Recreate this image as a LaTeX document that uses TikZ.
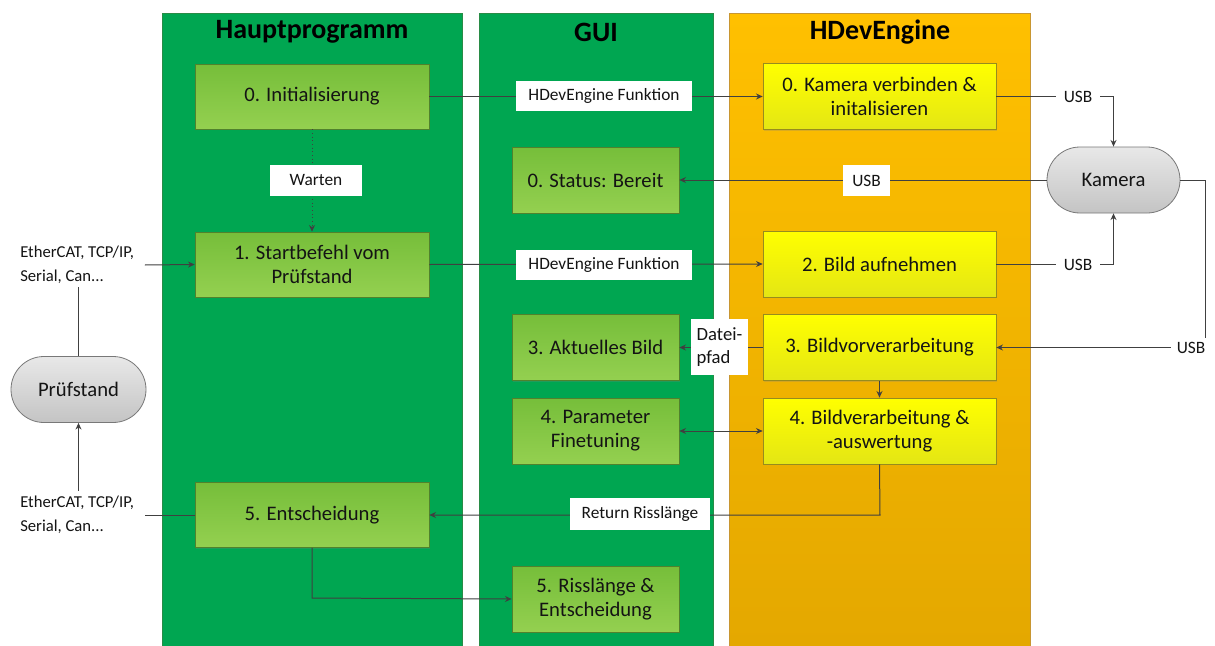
\documentclass[tikz,border=0pt]{standalone}
\usepackage{fontspec}
\setmainfont{Carlito}
\usetikzlibrary{arrows.meta,shadows}
\definecolor{colgreen}{RGB}{0,166,81}
\definecolor{colgreenB}{RGB}{40,140,70}
\definecolor{lgtop}{RGB}{118,190,58}
\definecolor{lgbot}{RGB}{148,208,80}
\definecolor{lgborder}{RGB}{80,130,45}
\definecolor{ortop}{RGB}{255,192,0}
\definecolor{orbot}{RGB}{228,168,0}
\definecolor{orborder}{RGB}{200,150,50}
\definecolor{yetop}{RGB}{255,255,0}
\definecolor{yebot}{RGB}{228,230,20}
\definecolor{yeborder}{RGB}{150,140,30}
\definecolor{grtop}{RGB}{232,232,232}
\definecolor{grbot}{RGB}{196,196,196}
\definecolor{grborder}{RGB}{120,120,120}
\definecolor{linec}{RGB}{64,64,64}
\definecolor{txt}{RGB}{20,20,20}
\tikzset{
  boxtext/.style={font=\fontsize{15.5}{18}\selectfont, text=txt, align=center, inner sep=2pt},
  gbox/.style={boxtext, draw=lgborder, line width=0.5pt, top color=lgtop, bottom color=lgbot,
    drop shadow={shadow xshift=1pt, shadow yshift=-1pt, opacity=0.25}},
  ybox/.style={boxtext, draw=yeborder, line width=0.5pt, top color=yetop, bottom color=yebot,
    drop shadow={shadow xshift=1pt, shadow yshift=-1pt, opacity=0.25}},
  hbox/.style={gbox, minimum width=175.5pt, minimum height=48.75pt},
  guibox/.style={gbox, minimum width=125.25pt, minimum height=49.5pt},
  hdbox/.style={ybox, minimum width=174.75pt, minimum height=49.5pt},
  capsule/.style={boxtext, draw=grborder, line width=0.6pt, top color=grtop, bottom color=grbot,
    rounded corners=24.75pt, minimum height=49.5pt},
  lbl/.style={fill=white, font=\fontsize{13}{17}\selectfont, text=txt, inner sep=0pt},
  plain/.style={font=\fontsize{12.5}{18}\selectfont, text=txt, align=left, inner sep=0pt},
  title/.style={font=\fontsize{21}{24}\selectfont\bfseries, text=black},
  conn/.style={draw=linec, line width=0.75pt},
  arr/.style={conn, -{Stealth[length=5pt,width=4.5pt]}},
  darr/.style={conn, {Stealth[length=5pt,width=4.5pt]}-{Stealth[length=5pt,width=4.5pt]}},
}
\begin{document}
\begin{tikzpicture}[x=0.75pt,y=-0.75pt]
\useasboundingbox (0,0) rectangle (1215,646);
% columns
\fill[white] (0,0) rectangle (1215,646);
\draw[colgreenB, fill=colgreen, line width=0.5pt] (162,13) rectangle (462,646);
\draw[colgreenB, fill=colgreen, line width=0.5pt] (479,13) rectangle (713,646);
\shade[top color=ortop, bottom color=orbot] (729,13) rectangle (1030,646);
\draw[orborder, line width=0.5pt] (729,13) rectangle (1030,646);
\node[title] (t1) at (312,32) {Hauptprogramm};
\node[title] (t2) at (596,32) {GUI};
\node[title] (t3) at (880,32) {HDevEngine};

% Hauptprogramm boxes
\node[hbox] (init) at (312,96.5) {0. Initialisierung};
\node[hbox] (start) at (312,264.5) {1. Startbefehl vom\\Prüfstand};
\node[hbox] (ent) at (312,515) {5. Entscheidung};
% GUI boxes
\node[guibox] (status) at (595.5,180) {0. Status: Bereit};
\node[guibox] (akt) at (595.5,347.5) {3. Aktuelles Bild};
\node[guibox] (param) at (595.5,431) {4. Parameter\\Finetuning};
\node[guibox] (riss) at (595.5,599) {5. Risslänge \&\\Entscheidung};
% HDevEngine boxes
\node[hdbox] (kamv) at (879.5,96.5) {0. Kamera verbinden \&\\initalisieren};
\node[hdbox] (bild) at (879.5,264) {2. Bild aufnehmen};
\node[hdbox] (vor) at (879.5,347.5) {3. Bildvorverarbeitung};
\node[hdbox] (verarb) at (879.5,431) {4. Bildverarbeitung \&\\-auswertung};
% capsules
\node[capsule, minimum width=99.75pt] (kamera) at (1113.5,180) {Kamera};
\node[capsule, minimum width=101.25pt] (pruef) at (78.5,389.5) {Prüfstand};

% side texts
\node[plain, anchor=west] (eth1) at (20,265) {EtherCAT, TCP/IP,\\Serial, Can...};
\node[plain, anchor=west] (eth2) at (20,515) {EtherCAT, TCP/IP,\\Serial, Can...};

% connectors
\draw[arr] (init.east) -- (kamv.west);
\node[lbl, minimum width=132pt, minimum height=22.5pt] (l1) at (604,96) {HDevEngine Funktion};
\draw[arr] (start.east) -- (bild.west);
\node[lbl, minimum width=132pt, minimum height=22.5pt] (l2) at (604,265) {HDevEngine Funktion};
\draw[arr, dotted] (init.south) -- (start.north);
\node[lbl, minimum width=69pt, minimum height=23.25pt] (l3) at (316,180.5) {Warten};
\draw[arr] (kamera.west) -- (status.east);
\node[lbl, minimum width=35.25pt, minimum height=23.25pt] (l4) at (866.5,180.5) {USB};
\draw[arr] (kamv.east) -| (kamera.north);
\node[lbl, inner xsep=6pt, inner ysep=3pt] (l5) at (1078,97) {USB};
\draw[arr] (bild.east) -| (kamera.south);
\node[lbl, inner xsep=6pt, inner ysep=3pt] (l6) at (1078,265) {USB};
\coordinate (kr) at (1205,180);
\draw[arr] (kamera.east) -- (kr) |- (vor.east);
\node[lbl, inner xsep=4pt, inner ysep=3pt] (l7) at (1191,348) {USB};
\draw[arr] (vor.west) -- (akt.east);
\node[lbl, align=left, font=\fontsize{14}{17.5}\selectfont, inner xsep=4.5pt, inner ysep=6pt] (l8) at (719.5,347) {Datei-\\pfad};
\draw[arr] (vor.south) -- (verarb.north);
\draw[darr] (param.east) -- (verarb.west);
\coordinate (rb) at (880,515);
\draw[arr] (verarb.south) -- (rb) -- (ent.east);
\node[lbl, minimum width=105pt, minimum height=24pt] (l9) at (640,514) {Return Risslänge};
\coordinate (eb) at (312,598);
\draw[arr] (ent.south) -- (eb) -- (riss.west);
% Prüfstand links
\draw[conn] (pruef.north) -- ([yshift=-2pt]eth1.south -| pruef.north);
\draw[arr] ([xshift=8pt]eth1.east) -- (start.west);
\draw[conn] (ent.west) -- ([xshift=8pt]eth2.east);
\draw[arr] ([yshift=4pt]eth2.north -| pruef.south) -- (pruef.south);
\end{tikzpicture}
\end{document}
